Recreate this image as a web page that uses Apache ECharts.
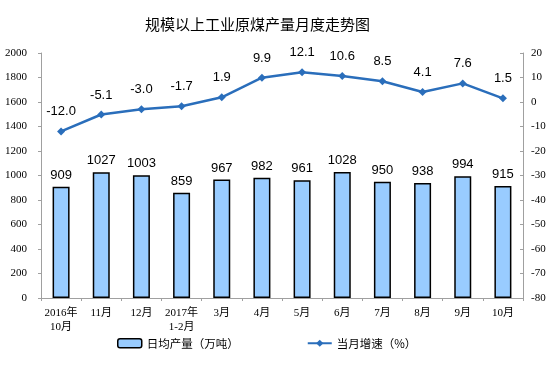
<!DOCTYPE html>
<html>
<head>
<meta charset="utf-8">
<script src="https://cdn.jsdelivr.net/npm/echarts@6/dist/echarts.min.js"></script>
<style>
  html, body { margin: 0; padding: 0; background: #fff; }
  #chart { width: 554px; height: 376px; }
</style>
</head>
<body>
<div id="chart"></div>
<script>
// 月份
const months = ['2016年\n10月', '11月', '12月', '2017年\n1-2月', '3月', '4月', '5月', '6月', '7月', '8月', '9月', '10月'];
// 日均产量（万吨）
const dailyOutput = [909, 1027, 1003, 859, 967, 982, 961, 1028, 950, 938, 994, 915];
// 当月增速（%）
const growthRate = [-12.0, -5.1, -3.0, -1.7, 1.9, 9.9, 12.1, 10.6, 8.5, 4.1, 7.6, 1.5];

const serif = '"Liberation Serif", "DejaVu Serif", "Noto Sans CJK SC", serif';
const sans = '"Liberation Sans", Arial, "Noto Sans CJK SC", sans-serif';

let myChart = echarts.init(document.getElementById('chart'));
let option = {
  animation: false,
  title: {
    text: '规模以上工业原煤产量月度走势图',
    left: 140,
    top: 12,
    textStyle: { fontFamily: '"Noto Sans CJK SC", sans-serif', fontSize: 15, fontWeight: 'normal', color: '#000' }
  },
  legend: {
    bottom: 22,
    left: 112,
    itemGap: 68,
    itemWidth: 24,
    itemHeight: 9,
    textStyle: { fontFamily: '"Noto Sans CJK SC", sans-serif', fontSize: 11.5, color: '#000' },
    data: [
      { name: '日均产量（万吨）', itemStyle: { color: '#99ccff', borderColor: '#000', borderWidth: 1.5 } },
      { name: '当月增速（%）' }
    ]
  },
  grid: { left: 41, right: 31, top: 53, bottom: 78 },
  xAxis: {
    type: 'category',
    data: months,
    axisLine: { lineStyle: { color: '#a0a0a0' } },
    axisTick: { show: true, alignWithLabel: false, length: 3, lineStyle: { color: '#a0a0a0' } },
    axisLabel: { fontFamily: serif, fontSize: 11, color: '#000', margin: 8, lineHeight: 14, interval: 0 }
  },
  yAxis: [
    {
      type: 'value', min: 0, max: 2000, interval: 200,
      splitLine: { show: false },
      axisLine: { show: true, lineStyle: { color: '#a0a0a0' } },
      axisTick: { show: true, length: 3, lineStyle: { color: '#a0a0a0' } },
      axisLabel: { fontFamily: serif, fontSize: 11, color: '#000', margin: 14, formatter: function (v) { return String(v); } }
    },
    {
      type: 'value', min: -80, max: 20, interval: 10,
      splitLine: { show: false },
      axisLine: { show: true, lineStyle: { color: '#a0a0a0' } },
      axisTick: { show: true, inside: true, length: 3, lineStyle: { color: '#a0a0a0' } },
      axisLabel: { fontFamily: serif, fontSize: 11, color: '#000', margin: 8 }
    }
  ],
  series: [
    {
      name: '日均产量（万吨）',
      type: 'bar',
      yAxisIndex: 0,
      data: dailyOutput,
      barWidth: 17,
      itemStyle: { color: '#99ccff', borderColor: '#000', borderWidth: 1.5 },
      label: { show: true, position: 'top', distance: 5, fontFamily: sans, fontSize: 13, color: '#000' }
    },
    {
      name: '当月增速（%）',
      type: 'line',
      yAxisIndex: 1,
      data: growthRate,
      symbol: 'diamond',
      symbolSize: 8,
      lineStyle: { color: '#2a6ebb', width: 2.5 },
      itemStyle: { color: '#2a6ebb' },
      label: {
        show: true, position: 'top', distance: 9,
        fontFamily: sans, fontSize: 13, color: '#000',
        formatter: function (p) { return p.value.toFixed(1); }
      }
    }
  ]
};
myChart.setOption(option);
</script>
</body>
</html>
